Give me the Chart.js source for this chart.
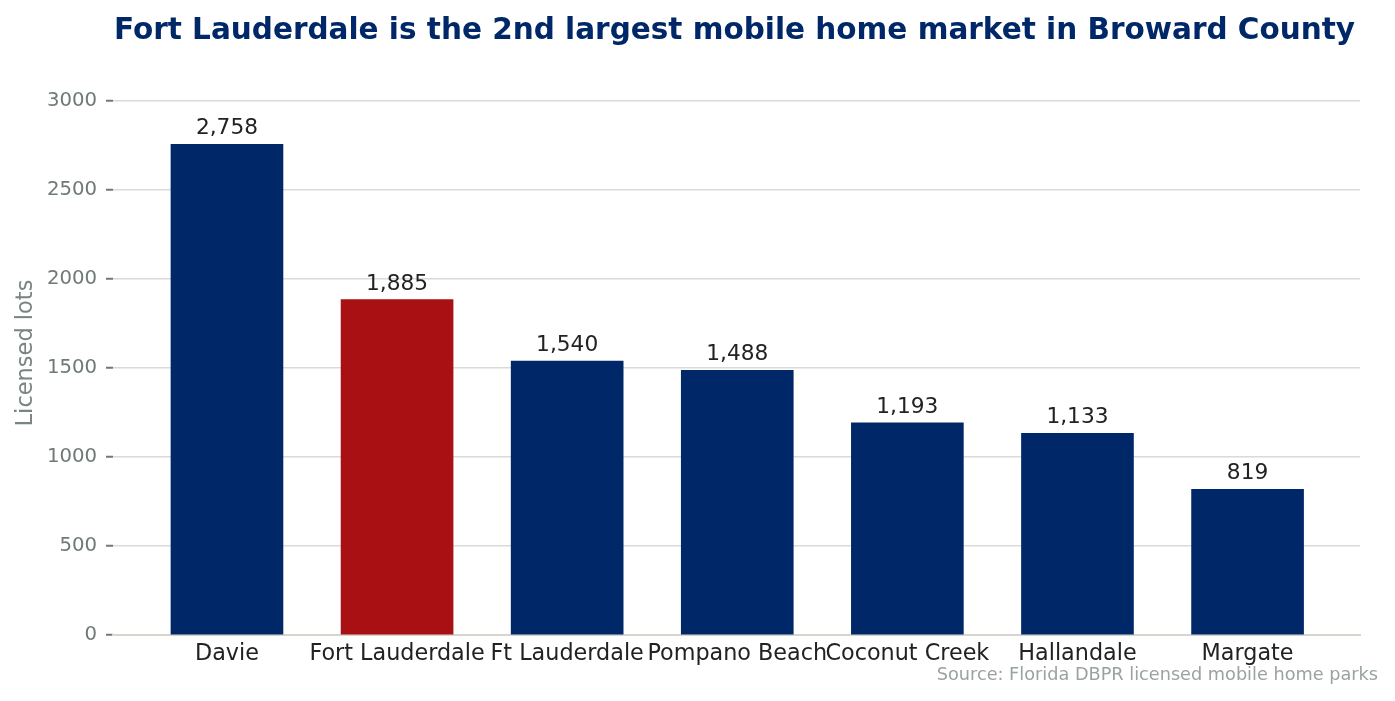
<!DOCTYPE html>
<html lang="en">
<head>
    <meta charset="UTF-8">
    <title>Broward County mobile home markets</title>
    <script src="https://cdn.jsdelivr.net/npm/chart.js"></script>
    <style>
        html, body { margin: 0; padding: 0; background: #fff; }
        #wrap { width: 1395px; height: 701px; }
    </style>
</head>
<body>
<div id="wrap"><canvas id="myChart" width="1395" height="701"></canvas></div>
<script>
// data
const cities = ['Davie', 'Fort Lauderdale', 'Ft Lauderdale', 'Pompano Beach', 'Coconut Creek', 'Hallandale', 'Margate'];
const lots = [2758, 1885, 1540, 1488, 1193, 1133, 819];
const yTicks = [0, 500, 1000, 1500, 2000, 2500, 3000];
const highlight = 'Fort Lauderdale';

const NAVY = '#002868';
const RED = '#a81014';
const FONT = "'DejaVu Sans', sans-serif";

// value labels, title and source line
const textPlugin = {
    id: 'texts',
    afterDatasetsDraw(chart) {
        const ctx = chart.ctx;
        const meta = chart.getDatasetMeta(0);
        ctx.save();
        ctx.fillStyle = '#222222';
        ctx.font = '21.7px ' + FONT;
        ctx.textAlign = 'center';
        ctx.textBaseline = 'alphabetic';
        meta.data.forEach((bar, i) => {
            ctx.fillText(lots[i].toLocaleString('en-US'), bar.x, bar.y - 10);
        });
        ctx.restore();
    },
    afterDraw(chart) {
        const ctx = chart.ctx;
        const area = chart.chartArea;
        ctx.save();
        ctx.fillStyle = NAVY;
        ctx.font = 'bold 29.5px ' + FONT;
        ctx.textAlign = 'center';
        ctx.textBaseline = 'middle';
        ctx.fillText('Fort Lauderdale is the 2nd largest mobile home market in Broward County', (area.left + area.right) / 2 - 2, 31);

        ctx.fillStyle = '#9aa3a0';
        ctx.font = '17.7px ' + FONT;
        ctx.textAlign = 'right';
        ctx.textBaseline = 'alphabetic';
        ctx.fillText('Source: Florida DBPR licensed mobile home parks', 1378, 680);
        ctx.restore();
    }
};

const ctx = document.getElementById('myChart').getContext('2d');
const myChart = new Chart(ctx, {
    type: 'bar',
    data: {
        datasets: [{
            label: 'Licensed lots',
            data: lots.map((v, i) => ({ x: i, y: v })),
            backgroundColor: cities.map(c => c === highlight ? RED : NAVY),
            barThickness: 112,
            borderWidth: 0
        }]
    },
    options: {
        responsive: false,
        animation: false,
        devicePixelRatio: 1,
        layout: { padding: { left: 0, right: 35, top: 71, bottom: 26 } },
        plugins: {
            legend: { display: false },
            tooltip: { enabled: false }
        },
        scales: {
            x: {
                type: 'linear',
                offset: false,
                min: -0.67,
                max: 6.661,
                afterBuildTicks: s => { s.ticks = cities.map((c, i) => ({ value: i })); },
                afterFit: s => { s.height = 40; },
                grid: { display: false, drawTicks: false, offset: false },
                border: { display: true, color: '#d8d5cf', width: 2 },
                ticks: {
                    autoSkip: false,
                    maxRotation: 0,
                    padding: 6,
                    color: '#222222',
                    font: { family: FONT, size: 22.3 },
                    callback: v => cities[v]
                }
            },
            y: {
                min: 0,
                max: 3170,
                afterBuildTicks: s => { s.ticks = yTicks.map(v => ({ value: v })); },
                afterFit: s => { s.width = 113; },
                grid: {
                    color: '#dcdad5',
                    lineWidth: 1.5,
                    drawTicks: true,
                    tickLength: 7,
                    tickColor: '#6f7a75',
                    tickWidth: 2
                },
                border: { display: false },
                ticks: {
                    padding: 9,
                    color: '#6f7a75',
                    font: { family: FONT, size: 19.7 },
                    callback: v => String(v)
                },
                title: {
                    display: true,
                    text: 'Licensed lots',
                    color: '#7a8580',
                    font: { family: FONT, size: 22.5, lineHeight: 1.2 },
                    padding: { top: 13, bottom: 0 }
                }
            }
        }
    },
    plugins: [textPlugin]
});
</script>
</body>
</html>
